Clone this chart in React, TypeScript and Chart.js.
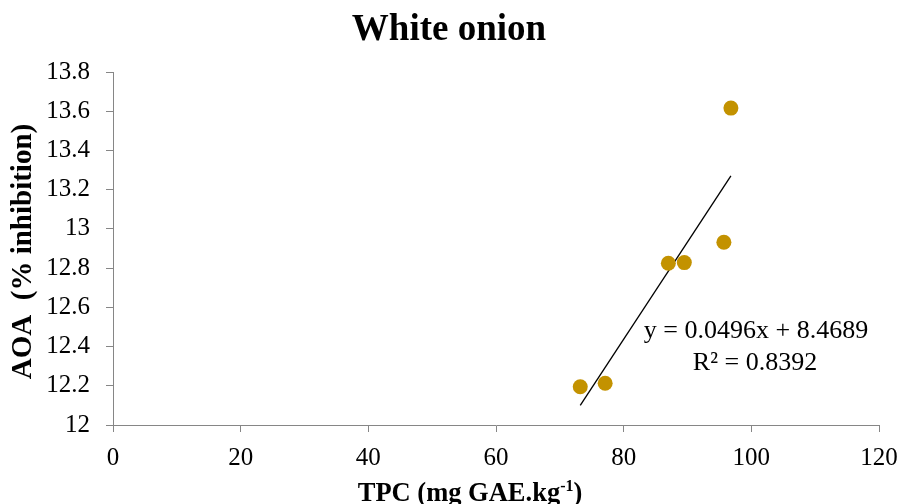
import React, { useEffect, useRef } from "react";
import { Chart, registerables } from "chart.js";

Chart.register(...registerables);

const TITLE = "White onion";
const X_TITLE_MAIN = "TPC (mg GAE.kg";
const X_TITLE_SUP = "-1";
const X_TITLE_END = ")";
const Y_TITLE = "AOA  (% inhibition)";

const tpc: number[] = [73.2, 77.1, 87.0, 89.5, 95.7, 96.8];
const aoa: number[] = [12.195, 12.213, 12.825, 12.828, 12.932, 13.616];

const SLOPE = 0.0496;
const INTERCEPT = 8.4689;
const R2 = 0.8392;
const EQ_LINE1 = `y = ${SLOPE}x + ${INTERCEPT}`;
const EQ_LINE2 = `R² = ${R2}`;

const X_MIN = 0, X_MAX = 120, X_STEP = 20;
const Y_MIN = 12, Y_MAX = 13.8, Y_STEP = 0.2;

const SERIF = '"Liberation Serif", "Times New Roman", serif';
const AXIS_GRAY = "#868686";
const POINT_COLOR = "#C39200";

export default function App() {
  const ref = useRef<HTMLCanvasElement | null>(null);

  useEffect(() => {
    document.body.style.margin = "0";
    const canvas = ref.current;
    if (!canvas) return;

    const points = tpc.map((x, i) => ({ x, y: aoa[i] }));
    const xLo = Math.min(...tpc);
    const xHi = Math.max(...tpc);
    const trend = [
      { x: xLo, y: SLOPE * xLo + INTERCEPT },
      { x: xHi, y: SLOPE * xHi + INTERCEPT },
    ];

    const textPlugin = {
      id: "textPlugin",
      afterDraw(chart: any) {
        const ctx = chart.ctx as CanvasRenderingContext2D;
        const ys = chart.scales.y;
        ctx.save();
        ctx.fillStyle = "#000";
        // Title
        ctx.font = `bold 37px ${SERIF}`;
        ctx.textAlign = "center";
        ctx.textBaseline = "alphabetic";
        ctx.fillText(TITLE, 449, 40);

        // Equation annotation
        ctx.font = `26px ${SERIF}`;
        ctx.textAlign = "center";
        ctx.fillText(EQ_LINE1, 756, 338);
        ctx.fillText(EQ_LINE2, 755, 370);

        // X title with superscript
        const mainFont = `bold 26.5px ${SERIF}`;
        const supFont = `bold 16px ${SERIF}`;
        ctx.font = mainFont;
        const w1 = ctx.measureText(X_TITLE_MAIN).width;
        const w3 = ctx.measureText(X_TITLE_END).width;
        ctx.font = supFont;
        const w2 = ctx.measureText(X_TITLE_SUP).width;
        const total = w1 + w2 + w3;
        let sx = 470 - total / 2;
        const base = 501;
        ctx.textAlign = "left";
        ctx.font = mainFont;
        ctx.fillText(X_TITLE_MAIN, sx, base);
        sx += w1;
        ctx.font = supFont;
        ctx.fillText(X_TITLE_SUP, sx, base - 10);
        sx += w2;
        ctx.font = mainFont;
        ctx.fillText(X_TITLE_END, sx, base);

        // Y title rotated
        ctx.translate(24, (ys.top + ys.bottom) / 2 + 3);
        ctx.rotate(-Math.PI / 2);
        ctx.font = `bold 29px ${SERIF}`;
        ctx.textAlign = "center";
        ctx.textBaseline = "middle";
        ctx.fillText(Y_TITLE, 0, 0);
        ctx.restore();
      },
    };

    const chart = new Chart(canvas, {
      type: "scatter",
      data: {
        datasets: [
          {
            label: "AOA",
            data: points,
            backgroundColor: POINT_COLOR,
            borderColor: POINT_COLOR,
            pointRadius: 7.5,
            pointHoverRadius: 7.5,
            borderWidth: 0,
          },
          {
            label: "Trend",
            data: trend,
            showLine: true,
            borderColor: "#000",
            borderWidth: 1.3,
            pointRadius: 0,
            fill: false,
          } as any,
        ],
      },
      options: {
        responsive: false,
        animation: false,
        layout: { padding: { left: 0, right: 22, top: 72, bottom: 0 } },
        plugins: {
          legend: { display: false },
          title: { display: false },
          tooltip: { enabled: false },
        },
        scales: {
          x: {
            type: "linear",
            min: X_MIN,
            max: X_MAX,
            ticks: {
              stepSize: X_STEP,
              color: "#000",
              font: { family: SERIF, size: 25 },
              padding: 11,
              maxRotation: 0,
            },
            grid: {
              display: true,
              drawOnChartArea: false,
              drawTicks: true,
              tickLength: 7,
              color: AXIS_GRAY,
            },
            border: { display: true, color: AXIS_GRAY, width: 1 },
            afterFit(scale: any) {
              scale.height = 79;
              scale.paddingLeft = 0;
              scale.paddingRight = 0;
            },
          },
          y: {
            type: "linear",
            min: Y_MIN,
            max: Y_MAX,
            ticks: {
              stepSize: Y_STEP,
              color: "#000",
              font: { family: SERIF, size: 25 },
              padding: 16,
              callback: (v: any) => String(Number(Number(v).toFixed(1))),
            },
            grid: {
              display: true,
              drawOnChartArea: false,
              drawTicks: true,
              tickLength: 7,
              color: AXIS_GRAY,
            },
            border: { display: true, color: AXIS_GRAY, width: 1 },
            afterFit(scale: any) {
              scale.width = 113;
              scale.paddingTop = 0;
              scale.paddingBottom = 0;
            },
          },
        },
      },
      plugins: [textPlugin],
    });

    return () => chart.destroy();
  }, []);

  return (
    <div style={{ position: "absolute", left: 0, top: 0, width: 901, height: 504, background: "#fff" }}>
      <canvas ref={ref} width={901} height={504} />
    </div>
  );
}
